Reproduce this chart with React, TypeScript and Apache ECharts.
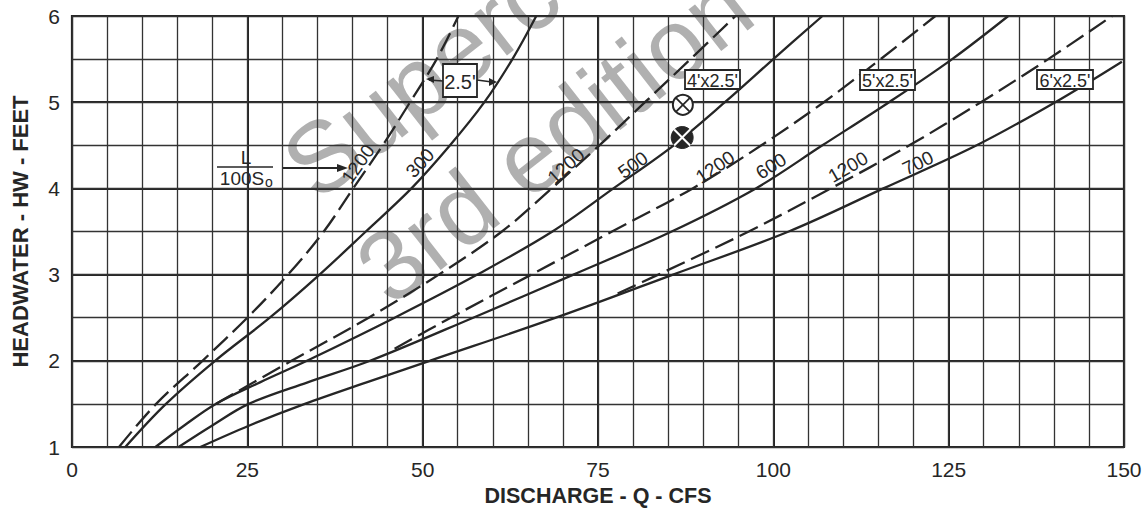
import React, { useEffect, useRef } from "react";
import * as echarts from "echarts";

// Discharge (cfs) / headwater (ft) pairs for each culvert curve
const pipe25Len1200: [number, number][] = [
  [6.7, 1], [12, 1.5], [18.6, 2], [25, 2.5], [30.8, 3], [35.9, 3.5], [40.1, 4],
  [44.3, 4.5], [48.2, 5], [52, 5.5], [55.1, 6],
];
const pipe25Len300: [number, number][] = [
  [7.6, 1], [13.4, 1.5], [20.4, 2], [28.2, 2.5], [35.3, 3], [41.9, 3.5], [48.4, 4],
  [53.9, 4.5], [58.8, 5], [62.8, 5.5], [66.2, 6],
];
const box4Len1200: [number, number][] = [
  [20.5, 1.5], [31.3, 2], [42.3, 2.5], [52.3, 3], [61.3, 3.5], [68.4, 4], [75.2, 4.5],
  [81.7, 5], [88.2, 5.5], [94.6, 6],
];
const box4Len500: [number, number][] = [
  [11.9, 1], [16, 1.25], [20.5, 1.5], [26.8, 1.75], [33.5, 2], [46, 2.5], [57.8, 3],
  [68.5, 3.5], [77.2, 4], [85.8, 4.5], [93.1, 5], [100, 5.5], [107, 6],
];
const box5Len1200: [number, number][] = [
  [46, 2.14], [54, 2.5], [65.5, 3], [77, 3.5], [88.5, 4], [98.3, 4.5], [107.2, 5],
  [115.3, 5.5], [123.1, 6],
];
const box5Len600: [number, number][] = [
  [15.2, 1], [20, 1.25], [25.2, 1.5], [33.6, 1.75], [42.5, 2], [57.2, 2.5], [71.5, 3],
  [85.5, 3.5], [97.5, 4], [107, 4.5], [116.5, 5], [125.5, 5.5], [133.5, 6],
];
const box6Len1200: [number, number][] = [
  [77.8, 2.78], [83.6, 3], [96.5, 3.5], [108.2, 4], [119.4, 4.5], [129.6, 5],
  [139.2, 5.5], [148.3, 6],
];
const box6Len700: [number, number][] = [
  [18.3, 1], [25.3, 1.25], [33.2, 1.5], [42, 1.75], [51, 2], [69, 2.5], [85.7, 3],
  [102.2, 3.5], [115.7, 4], [129, 4.5], [140.2, 5], [149.7, 5.47],
];

// Operating points marked on the 4'x2.5' box curves
const openPoint: [number, number] = [87.1, 4.97];
const filledPoint: [number, number] = [87, 4.59];

const INK = "#262626";
const FONT = "Liberation Sans";

const curve = (data: [number, number][], dashed: boolean) => ({
  type: "line",
  data,
  xAxisIndex: 0,
  yAxisIndex: 0,
  smooth: 0.35,
  showSymbol: false,
  symbol: "none",
  silent: true,
  lineStyle: { color: INK, width: 2.3, type: dashed ? [20, 7] : "solid" },
  z: 5,
});

export default function App() {
  const ref = useRef<HTMLDivElement>(null);

  useEffect(() => {
    if (!ref.current) return;
    const chart = echarts.init(ref.current, undefined, { renderer: "svg" });

    const labelStyle = { fontFamily: FONT, fontSize: 21, color: INK };

    chart.setOption({
      animation: false,
      backgroundColor: "#ffffff",
      grid: {
        left: 72,
        right: 23,
        top: 16,
        bottom: 62,
        outerBoundsMode: "none",
        containLabel: false,
        show: true,
        borderColor: INK,
        borderWidth: 2.2,
        backgroundColor: "transparent",
      },
      xAxis: [
        {
          type: "value",
          min: 0,
          max: 150,
          interval: 25,
          position: "bottom",
          name: "DISCHARGE - Q - CFS",
          nameLocation: "middle",
          nameGap: 37,
          nameTextStyle: { fontFamily: FONT, fontSize: 21.5, fontWeight: "bold", color: INK },
          axisLine: { show: false },
          axisTick: { show: false },
          axisLabel: { ...labelStyle, margin: 12 },
          splitLine: { show: true, lineStyle: { color: INK, width: 2 } },
        },
        {
          type: "value",
          min: 0,
          max: 150,
          interval: 5,
          position: "bottom",
          axisLine: { show: false },
          axisTick: { show: false },
          axisLabel: { show: false },
          splitLine: { show: true, lineStyle: { color: "#333", width: 1.3 } },
        },
      ],
      yAxis: [
        {
          type: "value",
          min: 1,
          max: 6,
          interval: 1,
          name: "HEADWATER - HW - FEET",
          nameLocation: "middle",
          nameGap: 41,
          nameRotate: 90,
          nameTextStyle: { fontFamily: FONT, fontSize: 22, fontWeight: "bold", color: INK },
          axisLine: { show: false },
          axisTick: { show: false },
          axisLabel: { ...labelStyle, margin: 12 },
          splitLine: { show: true, lineStyle: { color: INK, width: 2 } },
        },
        {
          type: "value",
          min: 1,
          max: 6,
          interval: 0.5,
          position: "left",
          axisLine: { show: false },
          axisTick: { show: false },
          axisLabel: { show: false },
          splitLine: { show: true, lineStyle: { color: "#333", width: 1.3 } },
        },
      ],
      series: [
        curve(pipe25Len1200, true),
        curve(pipe25Len300, false),
        curve(box4Len1200, true),
        curve(box4Len500, false),
        curve(box5Len1200, true),
        curve(box5Len600, false),
        curve(box6Len1200, true),
        curve(box6Len700, false),
      ],
    });

    const toPx = (p: [number, number]) =>
      chart.convertToPixel({ xAxisIndex: 0, yAxisIndex: 0 }, p) as number[];
    const [ox, oy] = toPx(openPoint);
    const [fx, fy] = toPx(filledPoint);

    const deg = (d: number) => (d * Math.PI) / 180;

    const curveLabels = [
      { text: "1200", x: 358, y: 164, angle: 55 },
      { text: "300", x: 420, y: 163, angle: 47 },
      { text: "1200", x: 566, y: 166, angle: 42 },
      { text: "500", x: 633, y: 165, angle: 36 },
      { text: "1200", x: 715, y: 167, angle: 34 },
      { text: "600", x: 771, y: 166, angle: 32 },
      { text: "1200", x: 848, y: 167, angle: 30 },
      { text: "700", x: 918, y: 163, angle: 26 },
    ];

    const boxes = [
      { text: "4'x2.5'", x: 685, y: 70, w: 55, h: 19, size: 18 },
      { text: "5'x2.5'", x: 860, y: 70, w: 55, h: 20, size: 18 },
      { text: "6'x2.5'", x: 1037, y: 70, w: 56, h: 19, size: 18 },
      { text: "2.5'", x: 443, y: 64, w: 34, h: 33, size: 20 },
    ];

    const watermarkStyle = {
      fontFamily: FONT,
      fontSize: 100,
      fill: "rgba(150,150,150,0.75)",
      align: "left",
      verticalAlign: "middle",
    };

    const graphic: any[] = [
      // watermark
      {
        type: "text",
        x: 296,
        y: 176,
        rotation: deg(38),
        z: -10,
        silent: true,
        style: { ...watermarkStyle, text: "Superceded" },
      },
      {
        type: "text",
        x: 370,
        y: 281,
        rotation: deg(38),
        z: -10,
        silent: true,
        style: { ...watermarkStyle, text: "3rd edition" },
      },
      ...curveLabels.map((l) => ({
        type: "text",
        x: l.x,
        y: l.y,
        rotation: deg(l.angle),
        z: 20,
        style: {
          text: l.text,
          fontFamily: FONT,
          fontSize: 19,
          fill: INK,
          align: "center",
          verticalAlign: "middle",
        },
      })),
      ...boxes.flatMap((b) => [
        {
          type: "rect",
          z: 20,
          shape: { x: b.x, y: b.y, width: b.w, height: b.h },
          style: { fill: "#fff", stroke: INK, lineWidth: 1.8 },
        },
        {
          type: "text",
          z: 21,
          x: b.x + b.w / 2,
          y: b.y + b.h / 2 + 1,
          style: {
            text: b.text,
            fontFamily: FONT,
            fontSize: b.size,
            fill: INK,
            align: "center",
            verticalAlign: "middle",
          },
        },
      ]),
      // arrows from the 2.5' box to its two curves
      { type: "line", z: 20, shape: { x1: 429, y1: 80, x2: 443, y2: 81 }, style: { stroke: INK, lineWidth: 1.6 } },
      { type: "polygon", z: 20, shape: { points: [[426, 79], [434, 76], [434, 83]] }, style: { fill: INK } },
      { type: "line", z: 20, shape: { x1: 477, y1: 80, x2: 492, y2: 82 }, style: { stroke: INK, lineWidth: 1.6 } },
      { type: "polygon", z: 20, shape: { points: [[497, 82], [489, 78], [489, 86]] }, style: { fill: INK } },
      // L / 100 So with arrow
      {
        type: "text",
        z: 20,
        x: 246,
        y: 157,
        style: { text: "L", fontFamily: FONT, fontSize: 19, fill: INK, align: "center", verticalAlign: "middle" },
      },
      { type: "line", z: 20, shape: { x1: 217, y1: 167, x2: 273, y2: 167 }, style: { stroke: INK, lineWidth: 1.6 } },
      {
        type: "text",
        z: 20,
        x: 242,
        y: 178,
        style: { text: "100S", fontFamily: FONT, fontSize: 19, fill: INK, align: "center", verticalAlign: "middle" },
      },
      {
        type: "text",
        z: 20,
        x: 269,
        y: 182,
        style: { text: "o", fontFamily: FONT, fontSize: 14, fill: INK, align: "center", verticalAlign: "middle" },
      },
      { type: "line", z: 20, shape: { x1: 283, y1: 168, x2: 340, y2: 168 }, style: { stroke: INK, lineWidth: 1.8 } },
      { type: "polygon", z: 20, shape: { points: [[348, 168], [337, 164], [337, 172]] }, style: { fill: INK } },
      // open marker
      {
        type: "circle",
        z: 22,
        shape: { cx: ox, cy: oy, r: 10 },
        style: { fill: "#fff", stroke: INK, lineWidth: 2 },
      },
      { type: "line", z: 23, shape: { x1: ox - 7, y1: oy - 7, x2: ox + 7, y2: oy + 7 }, style: { stroke: INK, lineWidth: 1.8 } },
      { type: "line", z: 23, shape: { x1: ox - 7, y1: oy + 7, x2: ox + 7, y2: oy - 7 }, style: { stroke: INK, lineWidth: 1.8 } },
      // filled marker
      {
        type: "circle",
        z: 22,
        shape: { cx: fx, cy: fy, r: 11 },
        style: { fill: INK, stroke: INK, lineWidth: 1 },
      },
      { type: "line", z: 23, shape: { x1: fx - 8, y1: fy - 8, x2: fx + 8, y2: fy + 8 }, style: { stroke: "#fff", lineWidth: 2 } },
      { type: "line", z: 23, shape: { x1: fx - 8, y1: fy + 8, x2: fx + 8, y2: fy - 8 }, style: { stroke: "#fff", lineWidth: 2 } },
    ];

    chart.setOption({ graphic });

    return () => chart.dispose();
  }, []);

  return (
    <div
      ref={ref}
      style={{ position: "fixed", left: 0, top: 0, width: 1147, height: 509, background: "#fff" }}
    />
  );
}
